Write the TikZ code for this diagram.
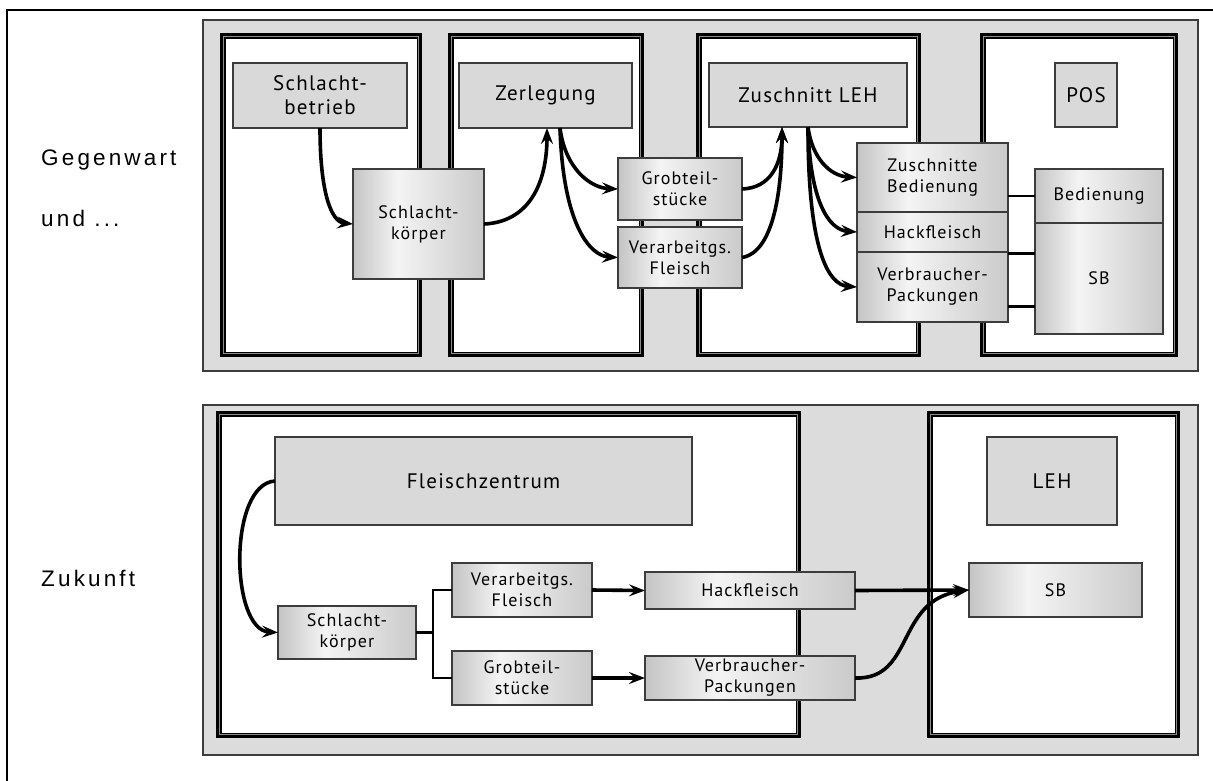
\documentclass[tikz,border=0pt]{standalone}
\usepackage{fontspec}
\setmainfont{Liberation Sans}
\newfontfamily\bxf{PT Sans}[LetterSpace=6]
\newfontfamily\lbf{Liberation Sans}[LetterSpace=14]
\usetikzlibrary{arrows.meta,calc}
\definecolor{panelgray}{HTML}{DCDCDC}
\definecolor{boxgray}{HTML}{D9D9D9}
\definecolor{edgegray}{HTML}{C4C4C4}
\definecolor{edgegrayR}{HTML}{CACACA}
\definecolor{litegray}{HTML}{F4F4F4}
\definecolor{bordergray}{HTML}{3C3C3C}
\definecolor{gapgray}{HTML}{8C8C8C}
\pgfdeclarehorizontalshading{boxgrad}{100bp}{color(0bp)=(edgegray); color(25bp)=(edgegray); color(42bp)=(litegray); color(75bp)=(edgegrayR); color(100bp)=(edgegrayR)}
\tikzset{
  flatbox/.style={draw=bordergray, line width=1.2pt, fill=boxgray, inner sep=0pt, outer sep=0pt, align=center, font=\bxf\fontsize{21}{24}\selectfont},
  gradbox/.style={draw=bordergray, line width=1.2pt, shade, shading=boxgrad, inner sep=0pt, outer sep=0pt, align=center, font=\bxf\fontsize{18}{21}\selectfont},
  arr/.style={line width=3.6pt, -{Stealth[length=16pt,width=12pt,inset=6pt]}},
  link/.style={line width=2.4pt},
  panel/.style={draw=bordergray, line width=1.5pt, fill=panelgray},
  lbl/.style={anchor=west, inner sep=0pt, font=\lbf\fontsize{22.5}{24}\selectfont}
}
\newcommand\mycol[4]{%
  \draw[line width=3pt, fill=gapgray] (#1+1.5,#2+1.5) rectangle (#3-1.5,#4-1.5);
  \draw[line width=1.5pt, fill=white] (#1+4.75,#2+4.75) rectangle (#3-4.75,#4-4.75);}
\begin{document}
\begin{tikzpicture}[x=1pt,y=-1pt]
\useasboundingbox (0,0) rectangle (1213,780);
% outer frame
\coordinate (fbl) at (7,781);
\coordinate (ftl) at (7,10);
\coordinate (ftr) at (1214,10);
\draw[line width=2pt] (fbl) -- (ftl) -- (ftr);
% labels
\node[lbl] (lg) at (41,160) {Gegenwart};
\node[lbl] (lu) at (41,218) {und ...};
\node[lbl] (lz) at (41,578) {Zukunft};
% panels
\draw[panel] (203,20) rectangle (1198,371);
\draw[panel] (203,405) rectangle (1198,755);
% columns top
\mycol{220}{33}{422}{357}
\mycol{448}{33}{644}{357}
\mycol{696}{33}{921}{357}
\mycol{980}{33}{1178}{357}
% columns bottom
\mycol{216}{411}{801}{738}
\mycol{927}{411}{1180}{738}
% top boxes
\node[flatbox, minimum width=174pt, minimum height=65pt] (sbetrieb) at (320,95.5) {Schlacht-\\betrieb};
\node[flatbox, minimum width=173pt, minimum height=65pt] (zerl) at (545.5,95.5) {Zerlegung};
\node[flatbox, minimum width=198pt, minimum height=64pt] (zus) at (808,95) {Zuschnitt LEH};
\node[flatbox, minimum width=62pt, minimum height=64pt] (pos) at (1086,95) {POS};
\node[gradbox, minimum width=131pt, minimum height=110pt] (skoerper) at (418.5,224) {Schlacht-\\körper};
\node[gradbox, minimum width=124pt, minimum height=62pt] (grob) at (680,189) {Grobteil-\\stücke};
\node[gradbox, minimum width=124pt, minimum height=61pt] (verarb) at (680,257.5) {Verarbeitgs.\\Fleisch};
\node[gradbox, minimum width=151pt, minimum height=69pt] (zb) at (932.5,177.5) {Zuschnitte\\Bedienung};
\node[gradbox, minimum width=151pt, minimum height=40pt] (hack) at (932.5,232) {Hackfleisch};
\node[gradbox, minimum width=151pt, minimum height=70pt] (vp) at (932.5,287) {Verbraucher-\\Packungen};
\node[gradbox, minimum width=128pt, minimum height=54pt] (bed) at (1099,196) {Bedienung};
\node[gradbox, minimum width=128pt, minimum height=111pt] (sbT) at (1099,278.5) {SB};
% bottom boxes
\node[flatbox, minimum width=417pt, minimum height=88pt] (fz) at (483.5,481) {Fleischzentrum};
\node[flatbox, minimum width=130pt, minimum height=88pt] (leh) at (1052,481) {LEH};
\node[gradbox, minimum width=138pt, minimum height=53pt] (sk2) at (347,632.5) {Schlacht-\\körper};
\node[gradbox, minimum width=140pt, minimum height=54pt] (va2) at (522,590) {Verarbeitgs.\\Fleisch};
\node[gradbox, minimum width=140pt, minimum height=54pt] (gb2) at (522,678) {Grobteil-\\stücke};
\node[gradbox, minimum width=210pt, minimum height=37pt] (hf2) at (750,590.5) {Hackfleisch};
\node[gradbox, minimum width=210pt, minimum height=44pt] (vp2) at (750,678) {Verbraucher-\\Packungen};
\node[gradbox, minimum width=173pt, minimum height=54pt] (sb2) at (1055.5,590) {SB};
% top connectors
\draw[arr] (sbetrieb.south) .. controls (320,195) and (332,222) .. (skoerper.west);
\draw[arr] (skoerper.east) .. controls (528,222) and (547,185) .. ([xshift=1.5pt]zerl.south);
\draw[arr] ([xshift=14.5pt]zerl.south) .. controls (565,168) and (590,188) .. (grob.west);
\draw[arr] ([xshift=14.5pt]zerl.south) .. controls (563,225) and (590,256) .. (verarb.west);
\draw[arr] (grob.east) .. controls (770,188) and (782,165) .. ([xshift=-26pt]zus.south);
\draw[arr] (verarb.east) .. controls (775,252) and (782,185) .. ([xshift=-26pt]zus.south);
\draw[arr] (zus.south) .. controls (812,158) and (830,176) .. (zb.west);
\draw[arr] (zus.south) .. controls (810,200) and (828,230) .. (hack.west);
\draw[arr] (zus.south) .. controls (808,250) and (828,285) .. (vp.west);
\draw[link] (bed.west) -- (bed.west -| zb.east);
\draw[link] ([yshift=25pt]sbT.west) -- ([yshift=25pt]sbT.west -| hack.east);
\draw[link] ([yshift=-28pt]sbT.west) -- ([yshift=-28pt]sbT.west -| vp.east);
% bottom connectors
\draw[arr] (fz.west) .. controls (228,484) and (230,630) .. (sk2.west);
\draw[link] (sk2.east) -- ++(17,0) |- (va2.west);
\draw[link] (sk2.east) -- ++(17,0) |- (gb2.west);
\draw[arr] (va2.east) -- (hf2.west);
\draw[arr] (gb2.east) -- (vp2.west);
\draw[arr] (hf2.east) -- (sb2.west);
\draw[arr] (vp2.east) .. controls (915,680) and (895,600) .. (sb2.west);
\end{tikzpicture}
\end{document}
